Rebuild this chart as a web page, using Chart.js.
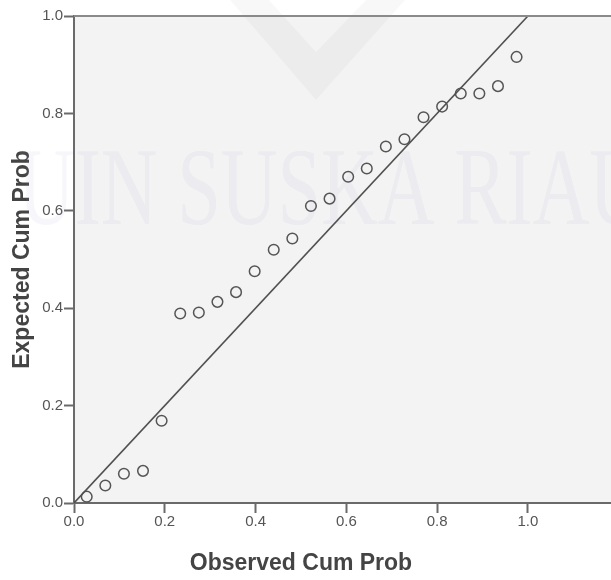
<!DOCTYPE html>
<html>
<head>
<meta charset="utf-8">
<script src="https://cdn.jsdelivr.net/npm/chart.js@4.4.1/dist/chart.umd.min.js"></script>
<style>
  html, body { margin: 0; padding: 0; background: #ffffff; }
  #wrap { width: 611px; height: 580px; }
</style>
</head>
<body>
<div id="wrap"><canvas id="c" width="611" height="580"></canvas></div>
<script>
// ---- data ----
const observedCumProb = [0.028, 0.069, 0.110, 0.152, 0.193, 0.234, 0.275, 0.316, 0.357, 0.398, 0.440, 0.481,
                         0.522, 0.563, 0.604, 0.645, 0.687, 0.728, 0.770, 0.811, 0.852, 0.893, 0.934, 0.975];
const expectedCumProb = [0.013, 0.036, 0.060, 0.066, 0.169, 0.389, 0.391, 0.413, 0.433, 0.476, 0.520, 0.543,
                         0.610, 0.625, 0.670, 0.687, 0.732, 0.747, 0.792, 0.814, 0.841, 0.841, 0.856, 0.916];
const refLineX = [0, 1];
const refLineY = [0, 1];
const xTickValues = [0, 0.2, 0.4, 0.6, 0.8, 1.0];
const yTickValues = [0, 0.2, 0.4, 0.6, 0.8, 1.0];
const xAxisMax = 1.183;
const xTitleCenterValue = 0.5;
const xTitle = 'Observed Cum Prob';
const yTitle = 'Expected Cum Prob';
const watermarkText = 'UIN SUSKA RIAU';

const points = observedCumProb.map((x, i) => ({ x: x, y: expectedCumProb[i] }));
const refLine = refLineX.map((x, i) => ({ x: x, y: refLineY[i] }));

const AXIS = '#6a6a6a';
const FONT = '"Liberation Sans", Arial, sans-serif';

const bgPlugin = {
  id: 'bg',
  beforeDraw(chart) {
    const { ctx, chartArea: a } = chart;
    ctx.save();
    ctx.fillStyle = '#ffffff';
    ctx.fillRect(0, 0, chart.width, chart.height);
    ctx.fillStyle = '#f3f3f3';
    ctx.fillRect(a.left, a.top, a.right - a.left, a.bottom - a.top);
    ctx.restore();
  },
  beforeDatasetsDraw(chart) {
    const { ctx } = chart;
    ctx.save();
    // faint chevron of the watermark logo
    ctx.fillStyle = 'rgba(0,0,0,0.028)';
    ctx.beginPath();
    ctx.moveTo(230, 0); ctx.lineTo(316, 100); ctx.lineTo(405, 0);
    ctx.lineTo(366, 0); ctx.lineTo(316, 52); ctx.lineTo(269, 0);
    ctx.closePath();
    ctx.fill();
    // faint watermark text
    ctx.font = '100px "Liberation Serif", "DejaVu Serif", serif';
    ctx.textBaseline = 'alphabetic';
    const w = ctx.measureText(watermarkText).width;
    const target = 628;
    ctx.translate(18, 224);
    ctx.scale(target / w, 1.1);
    ctx.fillStyle = 'rgba(150,150,205,0.085)';
    ctx.fillText(watermarkText, 0, 0);
    ctx.restore();
  },
  afterDraw(chart) {
    const { ctx, chartArea: a } = chart;
    ctx.save();
    ctx.strokeStyle = '#8a8a8a';
    ctx.lineWidth = 2;
    ctx.beginPath();
    ctx.moveTo(a.left, a.top);
    ctx.lineTo(chart.width, a.top);
    ctx.stroke();
    // x-axis title, centred on the 0..1 range as in the reference
    const xs = chart.scales.x;
    ctx.fillStyle = '#444444';
    ctx.font = 'bold 23px ' + FONT;
    ctx.textAlign = 'center';
    ctx.textBaseline = 'middle';
    ctx.fillText(xTitle, xs.getPixelForValue(xTitleCenterValue), 564);
    ctx.restore();
  }
};

new Chart(document.getElementById('c'), {
  type: 'scatter',
  data: {
    datasets: [
      {
        data: refLine,
        showLine: true,
        borderColor: '#505050',
        borderWidth: 1.6,
        pointRadius: 0,
        pointHoverRadius: 0,
        fill: false
      },
      {
        data: points,
        showLine: false,
        pointStyle: 'circle',
        pointRadius: 5.3,
        pointBorderWidth: 1.5,
        pointBorderColor: '#555555',
        pointBackgroundColor: 'rgba(0,0,0,0)'
      }
    ]
  },
  options: {
    responsive: false,
    devicePixelRatio: 1,
    animation: false,
    events: [],
    layout: { autoPadding: false, padding: { top: 16, left: 0, right: 0, bottom: 0 } },
    plugins: { legend: { display: false }, tooltip: { enabled: false } },
    scales: {
      x: {
        type: 'linear',
        min: 0,
        max: xAxisMax,
        afterBuildTicks: s => { s.ticks = xTickValues.map(v => ({ value: v })); },
        afterFit: s => { s.height = 77; s.paddingRight = 0; s.paddingLeft = 0; },
        ticks: {
          autoSkip: false, maxRotation: 0, padding: 0,
          color: '#555555',
          font: { family: FONT, size: 15 },
          callback: v => Number(v).toFixed(1)
        },
        grid: { display: true, drawOnChartArea: false, drawTicks: true, tickLength: 10, tickColor: AXIS, tickWidth: 2 },
        border: { display: true, color: AXIS, width: 2 },
        title: { display: false }
      },
      y: {
        type: 'linear',
        min: 0,
        max: 1,
        afterBuildTicks: s => { s.ticks = yTickValues.map(v => ({ value: v })); },
        afterFit: s => { s.width = 74; },
        ticks: {
          autoSkip: false, padding: 1,
          color: '#555555',
          font: { family: FONT, size: 15 },
          callback: v => Number(v).toFixed(1)
        },
        grid: { display: true, drawOnChartArea: false, drawTicks: true, tickLength: 10, tickColor: AXIS, tickWidth: 2 },
        border: { display: true, color: AXIS, width: 2 },
        title: {
          display: true, text: yTitle, color: '#444444',
          font: { family: FONT, size: 23, weight: 'bold' },
          padding: { top: 9, bottom: 0 }
        }
      }
    }
  },
  plugins: [bgPlugin]
});
</script>
</body>
</html>
